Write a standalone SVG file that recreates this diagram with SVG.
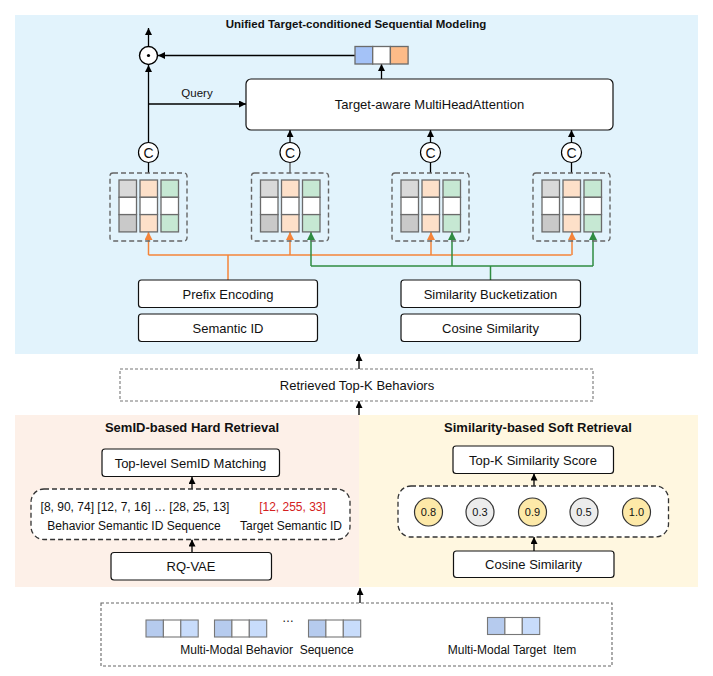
<svg xmlns="http://www.w3.org/2000/svg" width="713" height="676" viewBox="0 0 713 676">
<defs>
<style>
text{font-family:"Liberation Sans",Arial,sans-serif;fill:#111;text-anchor:middle;}
.t13{font-size:13px;}
.t12{font-size:12px;}
.t11{font-size:11px;}
.b{font-weight:bold;font-size:13px;}
.box{fill:#fff;stroke:#111;stroke-width:1.2;}
.dash{fill:#fff;stroke:#555;stroke-width:1.3;stroke-dasharray:5,3;}
.dashb{fill:none;stroke:#666;stroke-width:1.4;stroke-dasharray:5,3;}
.ln{fill:none;stroke:#000;stroke-width:1.3;}
.or{fill:none;stroke:#f4843a;stroke-width:1.5;}
.gr{fill:none;stroke:#2f8c42;stroke-width:1.5;}
.cell{stroke:#6b6b6b;stroke-width:1.3;}
.g1{fill:#d9d9d9;}.g3{fill:#c9c9c9;}.w{fill:#fff;}.o{fill:#fde0c9;}.gn{fill:#c6e8d3;}
.vc{stroke:#777;stroke-width:1.1;}
.bd{fill:#b6cbee;}.bl{fill:#c8dcfb;}
.sc{stroke:#333;stroke-width:1.2;}
</style>
<marker id="ah" viewBox="0 0 10 10" refX="10" refY="5" markerWidth="7" markerHeight="7" markerUnits="userSpaceOnUse" orient="auto"><path d="M0,0 L10,5 L0,10 z" fill="#000"/></marker>
<marker id="aho" viewBox="0 0 10 10" refX="10" refY="5" markerWidth="8" markerHeight="8" markerUnits="userSpaceOnUse" orient="auto"><path d="M0,0 L10,5 L0,10 z" fill="#f4843a"/></marker>
<marker id="ahg" viewBox="0 0 10 10" refX="10" refY="5" markerWidth="8" markerHeight="8" markerUnits="userSpaceOnUse" orient="auto"><path d="M0,0 L10,5 L0,10 z" fill="#2f8c42"/></marker>
<g id="kvcol">
<rect class="cell g1" x="9" y="7" width="17.5" height="17.3"/>
<rect class="cell w" x="9" y="24.3" width="17.5" height="17.3"/>
<rect class="cell g3" x="9" y="41.6" width="17.5" height="17.3"/>
<rect class="cell o" x="30" y="7" width="17.5" height="17.3"/>
<rect class="cell w" x="30" y="24.3" width="17.5" height="17.3"/>
<rect class="cell o" x="30" y="41.6" width="17.5" height="17.3"/>
<rect class="cell gn" x="51" y="7" width="17.5" height="17.3"/>
<rect class="cell w" x="51" y="24.3" width="17.5" height="17.3"/>
<rect class="cell gn" x="51" y="41.6" width="17.5" height="17.3"/>
<rect class="dashb" x="0" y="0" width="77" height="68" rx="3"/>
</g>
<g id="mmvec">
<rect class="vc bd" x="0" y="0" width="17.4" height="17"/>
<rect class="vc w" x="17.4" y="0" width="17.4" height="17"/>
<rect class="vc bl" x="34.8" y="0" width="17.4" height="17"/>
</g>
</defs>

<g id="backgrounds">
<rect x="15" y="15" width="683" height="339" fill="#e2f3fc"/>
<rect x="15" y="415" width="344" height="172" fill="#fdf0e8"/>
<rect x="359" y="415" width="339" height="172" fill="#fff7e0"/>
</g>

<g id="titles">
<text class="b" x="356" y="28" style="font-size:11.5px">Unified Target-conditioned Sequential Modeling</text>
<text class="b" x="192" y="432">SemID-based Hard Retrieval</text>
<text class="b" x="538" y="432">Similarity-based Soft Retrieval</text>
</g>

<g id="connectors">
<line class="ln" x1="148.5" y1="46.5" x2="148.5" y2="28" marker-end="url(#ah)"/>
<line class="ln" x1="355" y1="55.5" x2="158" y2="55.5" marker-end="url(#ah)"/>
<line class="ln" x1="381.5" y1="79" x2="381.5" y2="64" marker-end="url(#ah)"/>
<line class="ln" x1="148.5" y1="142.5" x2="148.5" y2="65" marker-end="url(#ah)"/>
<line class="ln" x1="148.5" y1="104" x2="246" y2="104" marker-end="url(#ah)"/>
<line class="ln" x1="290" y1="142.5" x2="290" y2="130" marker-end="url(#ah)"/>
<line class="ln" x1="430.5" y1="142.5" x2="430.5" y2="130" marker-end="url(#ah)"/>
<line class="ln" x1="571.5" y1="142.5" x2="571.5" y2="130" marker-end="url(#ah)"/>
<line class="ln" x1="148.5" y1="162.5" x2="148.5" y2="173"/>
<line class="ln" x1="290" y1="162.5" x2="290" y2="173" style="stroke:#555"/>
<line class="ln" x1="430.5" y1="162.5" x2="430.5" y2="173"/>
<line class="ln" x1="571.5" y1="162.5" x2="571.5" y2="173"/>
<!-- orange prefix routing -->
<path class="or" d="M228,280 V255"/>
<path class="or" d="M148.5,255 H571.5"/>
<line class="or" x1="148.5" y1="255" x2="148.5" y2="232" marker-end="url(#aho)"/>
<line class="or" x1="290" y1="255" x2="290" y2="232" marker-end="url(#aho)"/>
<line class="or" x1="431" y1="255" x2="431" y2="232" marker-end="url(#aho)"/>
<line class="or" x1="572" y1="255" x2="572" y2="232" marker-end="url(#aho)"/>
<!-- green bucket routing -->
<path class="gr" d="M490.5,280 V266"/>
<path class="gr" d="M311,266 H593"/>
<line class="gr" x1="311" y1="266" x2="311" y2="232" marker-end="url(#ahg)"/>
<line class="gr" x1="452" y1="266" x2="452" y2="232" marker-end="url(#ahg)"/>
<line class="gr" x1="593" y1="266" x2="593" y2="232" marker-end="url(#ahg)"/>
<!-- middle -->
<line class="ln" x1="359" y1="369" x2="359" y2="354" marker-end="url(#ah)"/>
<line class="ln" x1="359" y1="415" x2="359" y2="401" marker-end="url(#ah)"/>
<line class="ln" x1="192" y1="489" x2="192" y2="477" marker-end="url(#ah)"/>
<line class="ln" x1="192" y1="552" x2="192" y2="539.5" marker-end="url(#ah)"/>
<line class="ln" x1="534" y1="486" x2="534" y2="473.5" marker-end="url(#ah)"/>
<line class="ln" x1="534" y1="551" x2="534" y2="537" marker-end="url(#ah)"/>
<line class="ln" x1="360" y1="603" x2="360" y2="588" marker-end="url(#ah)"/>
</g>

<g id="query-label"><text class="t11" x="197" y="97" style="font-size:11.5px">Query</text></g>

<g id="dot-op">
<circle cx="148.5" cy="55.5" r="9" fill="#fff" stroke="#000" stroke-width="1.4"/>
<circle cx="148.5" cy="55.5" r="1.6" fill="#000"/>
</g>

<g id="attn-output">
<rect class="cell" x="355" y="46.5" width="17.7" height="17.5" fill="#a4c2f7"/>
<rect class="cell" x="372.7" y="46.5" width="17.7" height="17.5" fill="#fff"/>
<rect class="cell" x="390.4" y="46.5" width="17.7" height="17.5" fill="#fdbb88"/>
</g>

<g id="mha">
<rect class="box" x="246" y="79" width="367" height="51" rx="5"/>
<text class="t13" x="429.5" y="109">Target-aware MultiHeadAttention</text>
</g>

<g id="concat-ops">
<g><circle cx="148.5" cy="152.5" r="10" fill="#fff" stroke="#000" stroke-width="1.2"/><text x="148.5" y="157.5" style="font-size:14px">C</text></g>
<g><circle cx="290" cy="152.5" r="10" fill="#fff" stroke="#000" stroke-width="1.2"/><text x="290" y="157.5" style="font-size:14px">C</text></g>
<g><circle cx="430.5" cy="152.5" r="10" fill="#fff" stroke="#000" stroke-width="1.2"/><text x="430.5" y="157.5" style="font-size:14px">C</text></g>
<g><circle cx="571.5" cy="152.5" r="10" fill="#fff" stroke="#000" stroke-width="1.2"/><text x="571.5" y="157.5" style="font-size:14px">C</text></g>
</g>

<g id="token-groups">
<use href="#kvcol" x="110" y="173"/>
<use href="#kvcol" x="251.5" y="173"/>
<use href="#kvcol" x="392" y="173"/>
<use href="#kvcol" x="533" y="173"/>
</g>

<g id="prefix-encoding"><rect class="box" x="138.5" y="280" width="179" height="27.5" rx="3"/><text class="t13" x="228" y="298.5">Prefix Encoding</text></g>
<g id="semantic-id"><rect class="box" x="138.5" y="314" width="179" height="27.5" rx="3"/><text class="t13" x="228" y="332.5">Semantic ID</text></g>
<g id="similarity-bucketization"><rect class="box" x="401" y="280" width="179.5" height="27.5" rx="3"/><text class="t13" x="490.5" y="298.5">Similarity Bucketization</text></g>
<g id="cosine-similarity-top"><rect class="box" x="401" y="314" width="179.5" height="27.5" rx="3"/><text class="t13" x="490.5" y="332.5">Cosine Similarity</text></g>

<g id="retrieved">
<rect x="120" y="369" width="473" height="32" fill="#fff" stroke="#777" stroke-width="1.1" stroke-dasharray="3,2"/>
<text class="t13" x="357" y="389.5">Retrieved Top-K Behaviors</text>
</g>

<g id="semid-matching"><rect class="box" x="102" y="449" width="177.5" height="27.5" rx="3"/><text class="t13" x="190.5" y="467.5">Top-level SemID Matching</text></g>
<g id="semid-seq">
<rect class="dash" x="31" y="489" width="319" height="50.5" rx="13" style="stroke:#333"/>
<text class="t12" x="135" y="511">[8, 90, 74] [12, 7, 16] … [28, 25, 13]</text>
<text class="t12" x="292.5" y="511" style="fill:#d42020">[12, 255, 33]</text>
<text class="t12" x="134" y="529.5">Behavior Semantic ID Sequence</text>
<text class="t12" x="291" y="529.5">Target Semantic ID</text>
</g>
<g id="rqvae"><rect class="box" x="111" y="552.5" width="160.5" height="27.5" rx="3"/><text class="t13" x="191" y="571">RQ-VAE</text></g>

<g id="topk-score"><rect class="box" x="453" y="446" width="160.5" height="27.5" rx="3"/><text class="t13" x="533" y="464.5">Top-K Similarity Score</text></g>
<g id="scores">
<rect class="dash" x="398" y="486" width="270.5" height="51" rx="13" style="stroke:#333"/>
<circle class="sc" cx="428.5" cy="512" r="14" fill="#fde9a8"/><text class="t11" x="428.5" y="516">0.8</text>
<circle class="sc" cx="480" cy="512" r="14" fill="#ececec"/><text class="t11" x="480" y="516">0.3</text>
<circle class="sc" cx="532.5" cy="512" r="14" fill="#fde9a8"/><text class="t11" x="532.5" y="516">0.9</text>
<circle class="sc" cx="584" cy="512" r="14" fill="#ececec"/><text class="t11" x="584" y="516">0.5</text>
<circle class="sc" cx="636.5" cy="512" r="14" fill="#fde9a8"/><text class="t11" x="636.5" y="516">1.0</text>
</g>
<g id="cosine-similarity-bottom"><rect class="box" x="453.5" y="551" width="160.5" height="26.5" rx="3"/><text class="t13" x="533.5" y="569">Cosine Similarity</text></g>

<g id="multimodal-input">
<rect x="101" y="603" width="511" height="63" fill="#fff" stroke="#666" stroke-width="1.1" stroke-dasharray="3,2"/>
<use href="#mmvec" x="146" y="620"/>
<use href="#mmvec" x="214.5" y="620"/>
<text class="t12" x="288" y="622">…</text>
<use href="#mmvec" x="308.5" y="620"/>
<use href="#mmvec" x="487.5" y="617.5"/>
<text class="t12" x="267" y="654" style="white-space:pre">Multi-Modal Behavior  Sequence</text>
<text class="t12" x="512" y="654" style="white-space:pre">Multi-Modal Target  Item</text>
</g>
</svg>
